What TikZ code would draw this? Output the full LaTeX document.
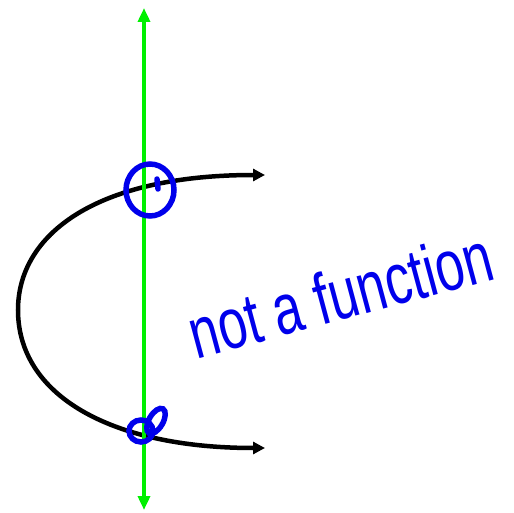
\documentclass[tikz,border=0pt]{standalone}
\usepackage{fontspec}
\setmainfont{Liberation Sans}
\usetikzlibrary{arrows.meta,calc}
\definecolor{testgreen}{RGB}{0,240,0}
\definecolor{inkblue}{RGB}{0,0,235}
\tikzset{
    vline/.style  = {testgreen, line width=4.5pt,
                     {Triangle[length=14pt,width=12pt]}-{Triangle[length=14pt,width=12pt]}},
    curve/.style  = {black, line width=4.5pt,
                     {Triangle[length=12pt,width=12pt]}-{Triangle[length=12pt,width=12pt]}},
    ink/.style    = {inkblue, line width=5.5pt, line cap=round},
    note/.style   = {inkblue, font=\fontsize{72}{72}\selectfont, rotate=15}
}
\begin{document}
\begin{tikzpicture}[x=1pt, y=-1pt]
\useasboundingbox (0,0) rectangle (514,513);

% ================= Sideways curve =================
\coordinate (upper end) at (265,175);
\coordinate (vertex)    at (18,310);
\coordinate (lower end) at (265,448);
\draw[curve] (upper end) .. controls (95,175) and (18,235) .. (vertex)
             .. controls (18,395) and (110,448) .. (lower end);

% ================= Vertical line test =================
\coordinate (top)    at (144,8);
\coordinate (bottom) at (144,510);
\draw[vline] (top) -- (bottom);

% ================= Marked crossings =================
\coordinate (upper hit) at (150,190);
\coordinate (lower hit) at (141,431);
\draw[ink] (upper hit) ellipse [x radius=24pt, y radius=26pt];
\draw[ink] ($(upper hit)+(7,-11)$) -- ++(1,10);
\draw[ink] (lower hit) ellipse [x radius=12pt, y radius=11pt];
\draw[ink, rotate around={-30:(156,421)}] (156,421) ellipse [x radius=7pt, y radius=14pt];

% ================= Label =================
\node[note] (label) at (340,294) {\scalebox{0.72}[1]{not a function}};

\end{tikzpicture}
\end{document}
